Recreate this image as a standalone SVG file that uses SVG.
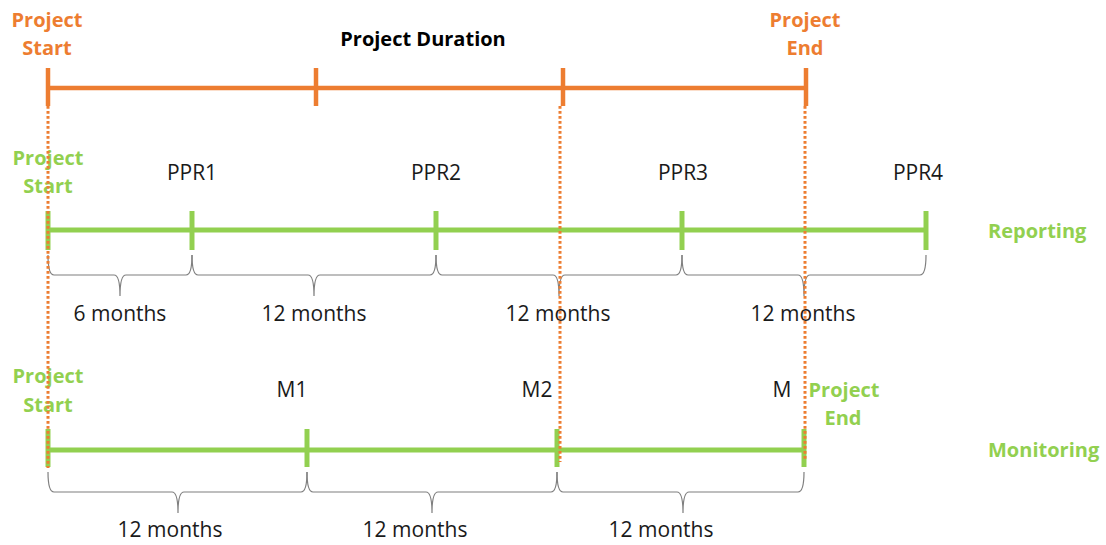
<svg xmlns="http://www.w3.org/2000/svg" width="1106" height="545" viewBox="0 0 1106 545">
  <style>
    .lbl { font-family: "Open Sans", "Liberation Sans", sans-serif; font-size: 20px; fill: #1a1a1a; text-anchor: middle; }
    .reg { font-size: 21px; }
    .bold { font-weight: bold; }
    .orange { fill: #ED7D31; }
    .green { fill: #92D050; }
    .dark { fill: #000; }
    .left { text-anchor: start; }
    .oline { stroke: #ED7D31; stroke-width: 4.5; fill: none; }
    .gline { stroke: #92D050; stroke-width: 5; fill: none; }
    .dots { stroke: #ED7D31; stroke-width: 3; stroke-dasharray: 2.8 2.2; fill: none; }
    .brace { stroke: #7f7f7f; stroke-width: 1.2; fill: none; }
  </style>

  <rect width="1106" height="545" fill="#fff"/>

  <!-- project duration bar -->
  <g id="project-timeline">
    <line class="oline" x1="48" y1="88" x2="806" y2="88"/>
    <line class="oline" x1="48" y1="68" x2="48" y2="106"/>
    <line class="oline" x1="316" y1="68" x2="316" y2="106"/>
    <line class="oline" x1="563" y1="68" x2="563" y2="106"/>
    <line class="oline" x1="806" y1="68" x2="806" y2="106"/>
    <text class="lbl bold orange" x="47" y="27">Project</text>
    <text class="lbl bold orange" x="47" y="55">Start</text>
    <text class="lbl bold dark" x="423" y="46">Project Duration</text>
    <text class="lbl bold orange" x="805" y="27">Project</text>
    <text class="lbl bold orange" x="805" y="55">End</text>
  </g>

  <!-- reporting bar -->
  <g id="reporting-timeline">
    <line class="gline" x1="48" y1="230" x2="926" y2="230"/>
    <line class="gline" x1="48" y1="211" x2="48" y2="250"/>
    <line class="gline" x1="192" y1="211" x2="192" y2="250"/>
    <line class="gline" x1="436" y1="211" x2="436" y2="250"/>
    <line class="gline" x1="682" y1="211" x2="682" y2="250"/>
    <line class="gline" x1="926" y1="211" x2="926" y2="250"/>
    <text class="lbl bold green" x="48" y="165">Project</text>
    <text class="lbl bold green" x="48" y="193">Start</text>
    <text class="lbl reg" x="192" y="180">PPR1</text>
    <text class="lbl reg" x="436" y="180">PPR2</text>
    <text class="lbl reg" x="683" y="180">PPR3</text>
    <text class="lbl reg" x="918" y="180">PPR4</text>
    <text class="lbl bold green left" x="988" y="238">Reporting</text>
  </g>

  <!-- reporting periods -->
  <g id="reporting-periods">
    <path class="brace" d="M48,255 Q48,275 54,275 L114,275 Q120,275 120,296 Q120,275 126,275 L186,275 Q192,275 192,255"/>
    <path class="brace" d="M192,255 Q192,275 198,275 L308,275 Q314,275 314,296 Q314,275 320,275 L430,275 Q436,275 436,255"/>
    <path class="brace" d="M436,255 Q436,275 442,275 L553,275 Q559,275 559,296 Q559,275 565,275 L676,275 Q682,275 682,255"/>
    <path class="brace" d="M682,255 Q682,275 688,275 L798,275 Q804,275 804,296 Q804,275 810,275 L920,275 Q926,275 926,255"/>
    <text class="lbl reg" x="120" y="321">6 months</text>
    <text class="lbl reg" x="314" y="321">12 months</text>
    <text class="lbl reg" x="558" y="321">12 months</text>
    <text class="lbl reg" x="803" y="321">12 months</text>
  </g>

  <!-- monitoring bar -->
  <g id="monitoring-timeline">
    <line class="gline" x1="48" y1="450" x2="804" y2="450"/>
    <line class="gline" x1="48" y1="429" x2="48" y2="467"/>
    <line class="gline" x1="307" y1="429" x2="307" y2="467"/>
    <line class="gline" x1="557" y1="429" x2="557" y2="467"/>
    <line class="gline" x1="804" y1="429" x2="804" y2="467"/>
    <text class="lbl bold green" x="48" y="383">Project</text>
    <text class="lbl bold green" x="48" y="412">Start</text>
    <text class="lbl reg" x="292" y="397">M1</text>
    <text class="lbl reg" x="537" y="397">M2</text>
    <text class="lbl reg" x="782" y="397">M</text>
    <text class="lbl bold green" x="844" y="397">Project</text>
    <text class="lbl bold green" x="843" y="425">End</text>
    <text class="lbl bold green left" x="988" y="457">Monitoring</text>
  </g>

  <!-- monitoring periods -->
  <g id="monitoring-periods">
    <path class="brace" d="M48,472 Q48,492 54,492 L172,492 Q178,492 178,513 Q178,492 184,492 L301,492 Q307,492 307,472"/>
    <path class="brace" d="M307,472 Q307,492 313,492 L426,492 Q432,492 432,513 Q432,492 438,492 L551,492 Q557,492 557,472"/>
    <path class="brace" d="M557,472 Q557,492 563,492 L677,492 Q683,492 683,513 Q683,492 689,492 L798,492 Q804,492 804,472"/>
    <text class="lbl reg" x="170" y="537">12 months</text>
    <text class="lbl reg" x="415" y="537">12 months</text>
    <text class="lbl reg" x="661" y="537">12 months</text>
  </g>

  <!-- dotted guides from the project milestones -->
  <g id="connectors">
    <line class="dots" x1="48" y1="106" x2="48" y2="468"/>
    <line class="dots" x1="560" y1="106" x2="560" y2="462"/>
    <line class="dots" x1="805" y1="106" x2="805" y2="460"/>
  </g>
</svg>
